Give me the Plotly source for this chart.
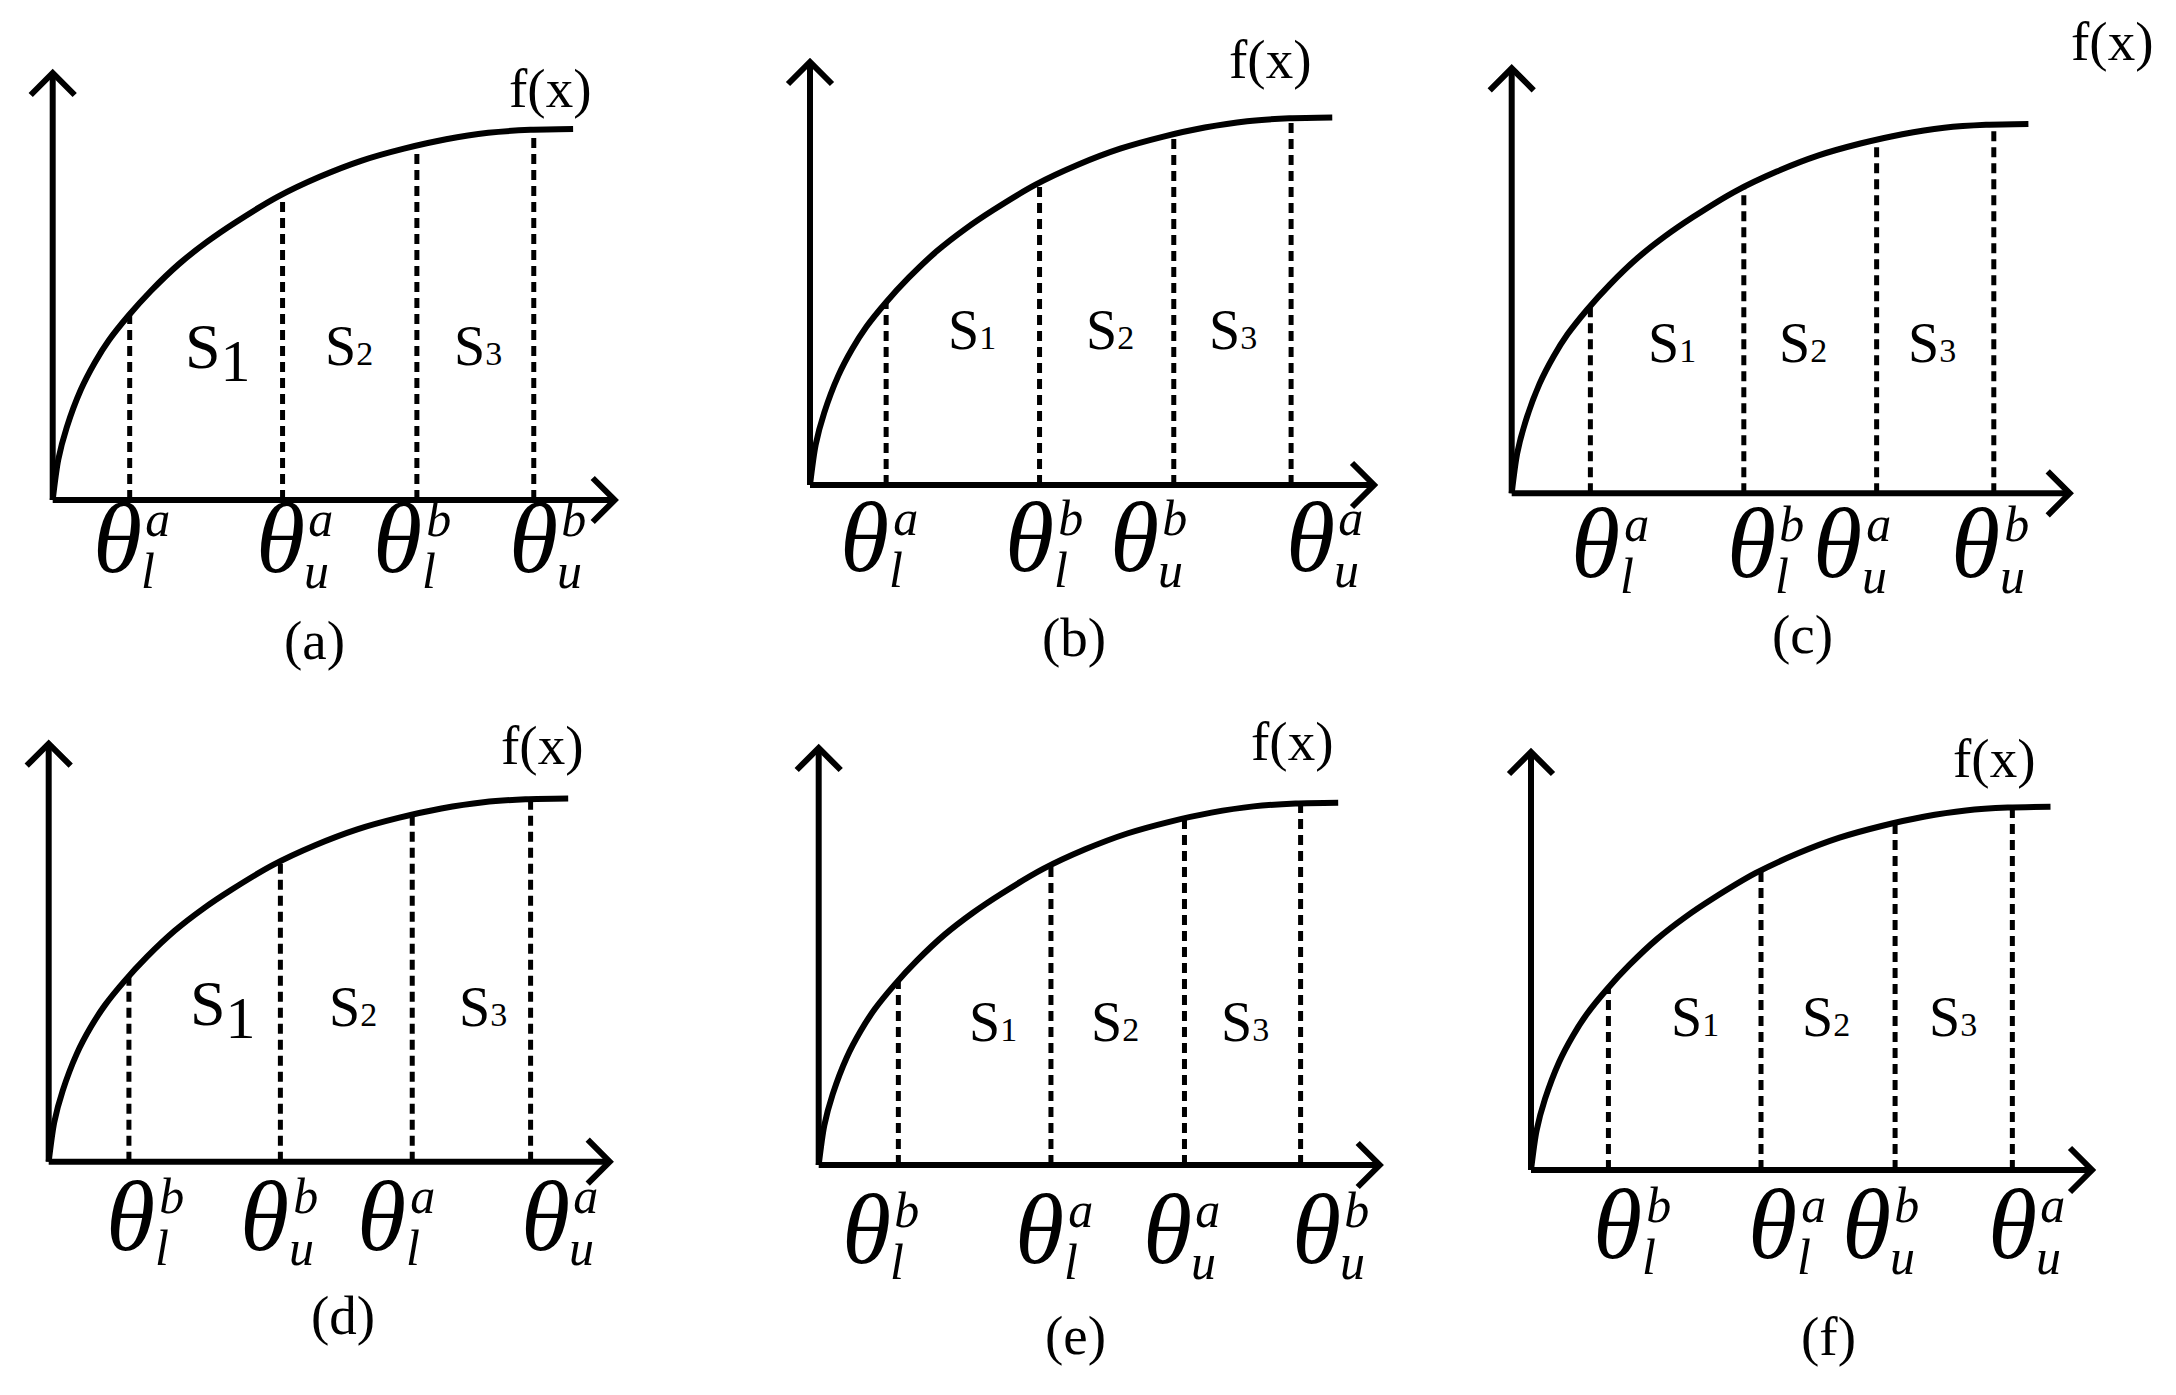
import numpy as np
import plotly.graph_objects as go

# ---------------- data ----------------
panel_ids = ["a", "b", "c", "d", "e", "f"]
panel_titles = ["(a)", "(b)", "(c)", "(d)", "(e)", "(f)"]

# schematic f(x); x in axis units (x-arrow tip = 10), y as fraction of y-axis height
curve_x = [0.0, 0.10, 0.25, 0.50, 0.75, 1.00, 1.35, 1.75, 2.25, 2.75, 3.25, 4.00,
           4.75, 5.50, 6.25, 7.00, 7.75, 8.50, 9.26]
curve_y = [0.0, 0.095, 0.170, 0.258, 0.322, 0.374, 0.432, 0.490, 0.553, 0.605, 0.650, 0.710,
           0.757, 0.795, 0.823, 0.845, 0.860, 0.867, 0.869]

# thresholds (dashed verticals) per panel
threshold_x = {
    "a": [1.37, 4.09, 6.48, 8.56],
    "b": [1.35, 4.07, 6.45, 8.53],
    "c": [1.41, 4.16, 6.54, 8.64],
    "d": [1.43, 4.13, 6.48, 8.59],
    "e": [1.42, 4.14, 6.52, 8.59],
    "f": [1.38, 4.10, 6.49, 8.58],
}
# tick labels theta_{sub}^{sup}
theta_sub = {
    "a": ["l", "u", "l", "u"],
    "b": ["l", "l", "u", "u"],
    "c": ["l", "l", "u", "u"],
    "d": ["l", "u", "l", "u"],
    "e": ["l", "l", "u", "u"],
    "f": ["l", "l", "u", "u"],
}
theta_sup = {
    "a": ["a", "a", "b", "b"],
    "b": ["a", "b", "b", "a"],
    "c": ["a", "b", "a", "b"],
    "d": ["b", "b", "a", "a"],
    "e": ["b", "a", "a", "b"],
    "f": ["b", "a", "b", "a"],
}
region_names = ["1", "2", "3"]
big_s1_panels = ["a", "d"]
curve_name = "f(x)"

# ---------------- layout (pixels / positions) ----------------
FIG_W, FIG_H = 2176, 1395
# origin x, origin y, axis width, axis height (px)
panel_geom = {
    "a": (52.7, 500.0, 562, 427),
    "b": (810.0, 485.0, 564, 423),
    "c": (1511.7, 493.3, 558, 425),
    "d": (48.7, 1161.7, 561, 418),
    "e": (818.7, 1165.0, 561, 417),
    "f": (1531.0, 1170.0, 561, 418),
}
theta_label_x = {
    "a": [1.15, 4.05, 6.14, 8.55],
    "b": [0.97, 3.90, 5.75, 8.87],
    "c": [1.51, 4.29, 5.84, 8.32],
    "d": [1.46, 3.85, 5.94, 8.85],
    "e": [0.85, 3.94, 6.21, 8.87],
    "f": [1.55, 4.31, 5.98, 8.58],
}
theta_label_y = {"a": -0.110, "b": -0.144, "c": -0.138, "d": -0.150, "e": -0.174, "f": -0.150}
fx_pos = {"a": (8.84, 0.964), "b": (8.15, 1.005), "c": (10.76, 1.062),
          "d": (8.79, 0.995), "e": (8.44, 1.016), "f": (8.26, 0.984)}
s_pos = {
    "a": [(2.94, 0.345), (5.27, 0.361), (7.57, 0.361)],
    "b": [(2.87, 0.366), (5.32, 0.366), (7.50, 0.366)],
    "c": [(2.87, 0.354), (5.22, 0.354), (7.54, 0.354)],
    "d": [(3.11, 0.364), (5.43, 0.369), (7.74, 0.369)],
    "e": [(3.11, 0.344), (5.29, 0.344), (7.60, 0.344)],
    "f": [(2.93, 0.366), (5.25, 0.366), (7.53, 0.366)],
}
title_pos = {"a": (4.65, -0.33), "b": (4.68, -0.36), "c": (5.21, -0.333),
             "d": (5.24, -0.369), "e": (4.58, -0.409), "f": (5.31, -0.398)}

X_TIP = 10.0
PAD_L, PAD_R, PAD_T, PAD_B = 32, 60, 50, 200   # px around each axis box
LW = 6            # axis / curve line width
DASH_W = 5
ARROW = 22        # chevron arm extent in px
SERIF = "Liberation Serif"
THETA_SIZE = 100
THETA_LIFT = 8
SCRIPT_SIZE = 50
SCRIPT_LINE = 40   # base size that sets the gap between super- and subscript lines
SCRIPT_DX = 22
SUP_INDENT = "\u200a"
S_SIZE = 56
S_SMALL = 34
S_BIG = 64
FX_SIZE = 55
TITLE_SIZE = 55

fig = go.Figure()
annotations = []
layout_axes = {}

for i, p in enumerate(panel_ids):
    ox, oy, W, H = panel_geom[p]
    suf = "" if i == 0 else str(i + 1)
    xa, ya = "x" + suf, "y" + suf
    ux = X_TIP / W   # data units per px (x)
    uy = 1.0 / H     # data units per px (y)

    layout_axes["xaxis" + suf] = dict(
        domain=[(ox - PAD_L) / FIG_W, (ox + W + PAD_R) / FIG_W],
        range=[-PAD_L * ux, X_TIP + PAD_R * ux], visible=False, fixedrange=True, anchor=ya)
    layout_axes["yaxis" + suf] = dict(
        domain=[1 - (oy + PAD_B) / FIG_H, 1 - (oy - H - PAD_T) / FIG_H],
        range=[-PAD_B * uy, 1 + PAD_T * uy], visible=False, fixedrange=True, anchor=xa)

    line = dict(color="black", width=LW)
    # axes
    fig.add_trace(go.Scatter(x=[0, X_TIP], y=[0, 0], mode="lines", line=line, xaxis=xa, yaxis=ya, hoverinfo="skip"))
    fig.add_trace(go.Scatter(x=[0, 0], y=[0, 1], mode="lines", line=line, xaxis=xa, yaxis=ya, hoverinfo="skip"))
    # chevron arrow heads
    fig.add_trace(go.Scatter(x=[X_TIP - ARROW * ux, X_TIP, X_TIP - ARROW * ux],
                             y=[ARROW * uy, 0, -ARROW * uy], mode="lines", line=line,
                             xaxis=xa, yaxis=ya, hoverinfo="skip"))
    fig.add_trace(go.Scatter(x=[-ARROW * ux, 0, ARROW * ux],
                             y=[1 - ARROW * uy, 1, 1 - ARROW * uy], mode="lines", line=line,
                             xaxis=xa, yaxis=ya, hoverinfo="skip"))
    # curve
    fig.add_trace(go.Scatter(x=curve_x, y=curve_y, mode="lines",
                             line=dict(color="black", width=LW, shape="spline", smoothing=0.8),
                             xaxis=xa, yaxis=ya, hoverinfo="skip"))
    # dashed thresholds
    dx, dy = [], []
    for t in threshold_x[p]:
        top = float(np.interp(t, curve_x, curve_y))
        dx += [t, t, None]
        dy += [0, top, None]
    fig.add_trace(go.Scatter(x=dx, y=dy, mode="lines",
                             line=dict(color="black", width=DASH_W, dash="10px,6px"),
                             xaxis=xa, yaxis=ya, hoverinfo="skip"))

    def ann(text, x, y, size, italic=False, xanchor="center", yanchor="middle",
            xshift=0, yshift=0, align="center"):
        annotations.append(dict(
            text=text, x=x, y=y, xref=xa, yref=ya, showarrow=False, align=align,
            xanchor=xanchor, yanchor=yanchor, xshift=xshift, yshift=yshift,
            font=dict(family=SERIF, size=size, color="black",
                      style="italic" if italic else "normal")))

    # theta tick labels: theta plus a stacked superscript / subscript block
    for k in range(4):
        lx = theta_label_x[p][k]
        ly = theta_label_y[p]
        ann("θ", lx, ly, THETA_SIZE, italic=True, yshift=THETA_LIFT)
        scripts = ("<span style='font-size:%dpx'>%s%s</span><br>"
                   "<span style='font-size:%dpx'>%s</span>") % (
            SCRIPT_SIZE, SUP_INDENT, theta_sup[p][k], SCRIPT_SIZE, theta_sub[p][k])
        ann(scripts, lx, ly, SCRIPT_LINE, italic=True, xanchor="left", align="left",
            xshift=SCRIPT_DX, yshift=2)

    # region labels
    for k, (sx, sy) in enumerate(s_pos[p]):
        if p in big_s1_panels and k == 0:
            txt = "S<sub><span style='font-size:%dpx'>%s</span></sub>" % (S_BIG - 4, region_names[k])
            ann(txt, sx, sy, S_BIG)
        else:
            txt = "S<span style='font-size:%dpx'>%s</span>" % (S_SMALL, region_names[k])
            ann(txt, sx, sy, S_SIZE)

    # f(x) label and panel title
    ann(curve_name, fx_pos[p][0], fx_pos[p][1], FX_SIZE)
    ann(panel_titles[i], title_pos[p][0], title_pos[p][1], TITLE_SIZE)

fig.update_layout(
    width=FIG_W, height=FIG_H, autosize=False,
    margin=dict(l=0, r=0, t=0, b=0, pad=0),
    paper_bgcolor="white", plot_bgcolor="rgba(0,0,0,0)",
    showlegend=False, annotations=annotations, **layout_axes)

fig.write_html("out.html", config={"displayModeBar": False, "staticPlot": True},
               post_script="document.body.style.margin='0';document.body.style.overflow='hidden';")
